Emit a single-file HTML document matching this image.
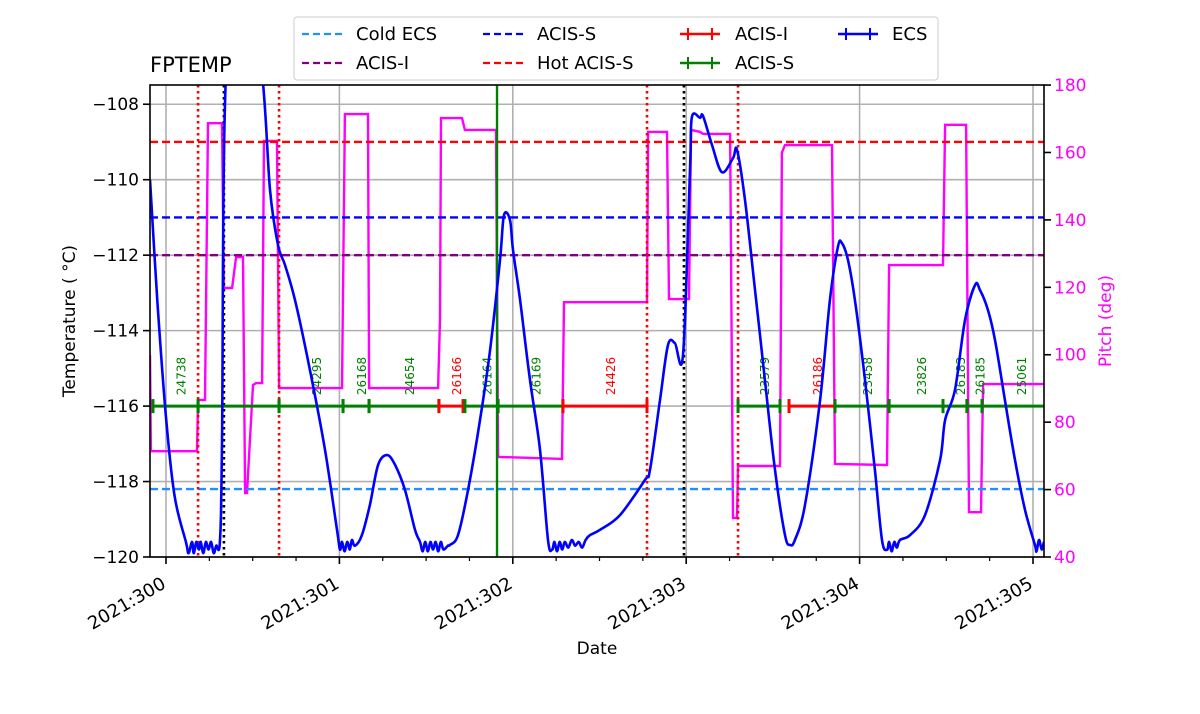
<!DOCTYPE html>
<html><head><meta charset="utf-8"><style>
html,body{margin:0;padding:0;background:#fff;}
svg{display:block;font-family:"DejaVu Sans","Liberation Sans",sans-serif;}
</style></head><body>
<svg id="chart" width="1200" height="714" viewBox="0 0 1200 714" xmlns="http://www.w3.org/2000/svg">
<defs><clipPath id="clip"><rect x="150" y="85" width="894" height="472"/></clipPath></defs>
<rect x="0" y="0" width="1200" height="714" fill="#fff"/>
<g id="grid"></g>
<g id="plot" clip-path="url(#clip)"></g>
<rect x="150" y="85" width="894" height="472" fill="none" stroke="#000" stroke-width="1.6"/>
<g id="axes"></g>
<text x="150" y="72" font-size="21">FPTEMP</text>
<text x="597" y="654" font-size="17" text-anchor="middle">Date</text>
<text transform="translate(75,321) rotate(-90)" font-size="17" text-anchor="middle">Temperature ( °C)</text>
<text transform="translate(1111,321) rotate(-90)" font-size="17" fill="#ff00ff" text-anchor="middle">Pitch (deg)</text>
<g>
<rect x="294" y="17" width="644" height="63" rx="3" fill="#fff" stroke="#ccc" stroke-width="1"/>
<g><line x1="302" y1="34" x2="342" y2="34" stroke="#1e90ff" stroke-width="2.2" stroke-dasharray="7,4"/><text x="356" y="40" font-size="18">Cold ECS</text></g>
<g><line x1="302" y1="63" x2="342" y2="63" stroke="#800080" stroke-width="2.2" stroke-dasharray="7,4"/><text x="356" y="69" font-size="18">ACIS-I</text></g>
<g><line x1="483" y1="34" x2="523" y2="34" stroke="#0000ff" stroke-width="2.2" stroke-dasharray="7,4"/><text x="537" y="40" font-size="18">ACIS-S</text></g>
<g><line x1="483" y1="63" x2="523" y2="63" stroke="#ff0000" stroke-width="2.2" stroke-dasharray="7,4"/><text x="537" y="69" font-size="18">Hot ACIS-S</text></g>
<g><line x1="680" y1="34" x2="720" y2="34" stroke="#ff0000" stroke-width="2.5"/><line x1="688" y1="28" x2="688" y2="40" stroke="#ff0000" stroke-width="2"/><line x1="712" y1="28" x2="712" y2="40" stroke="#ff0000" stroke-width="2"/><text x="735" y="40" font-size="18">ACIS-I</text></g>
<g><line x1="680" y1="63" x2="720" y2="63" stroke="#008000" stroke-width="2.5"/><line x1="688" y1="57" x2="688" y2="69" stroke="#008000" stroke-width="2"/><line x1="712" y1="57" x2="712" y2="69" stroke="#008000" stroke-width="2"/><text x="735" y="69" font-size="18">ACIS-S</text></g>
<g><line x1="838" y1="34" x2="878" y2="34" stroke="#0000ff" stroke-width="2.5"/><line x1="846" y1="28" x2="846" y2="40" stroke="#0000ff" stroke-width="2"/><line x1="870" y1="28" x2="870" y2="40" stroke="#0000ff" stroke-width="2"/><text x="865" y="40" font-size="18" dx="27">ECS</text></g>
</g>
</svg>
<script>
// ---- data ----
const xTickDays = [300, 301, 302, 303, 304, 305];
const xTickLabels = ["2021:300","2021:301","2021:302","2021:303","2021:304","2021:305"];
const yTicks = [-120,-118,-116,-114,-112,-110,-108];
const y2Ticks = [40,60,80,100,120,140,160,180];
const limitNames = ["cold-ecs","acis-s-limit","acis-i-limit","hot-acis-s"];
const limitValues = [-118.2,-111.0,-112.0,-109.0];
const limitColors = ["#1e90ff","#0000ff","#800080","#ff0000"];
const redDotDays = [300.185, 300.652, 302.774, 303.299];
const blackDotDays = [300.334, 302.987];
const greenLineDays = [301.909];
const tempDays = [299.908,299.95,300.0,300.05,300.115,300.13,300.15,300.16,300.175,300.19,300.2,300.215,300.23,300.245,300.26,300.275,300.29,300.311,300.323,300.346,300.45,300.554,300.600,300.646,300.686,300.744,300.830,300.917,300.986,301.003,301.015,301.03,301.045,301.06,301.072,301.090,301.130,301.176,301.223,301.275,301.321,301.378,301.436,301.465,301.48,301.495,301.51,301.525,301.54,301.555,301.57,301.585,301.6,301.626,301.638,301.684,301.742,301.811,301.869,301.926,301.949,301.984,302.001,302.042,302.099,302.157,302.203,302.226,302.24,302.255,302.27,302.285,302.3,302.32,302.34,302.36,302.38,302.4,302.42,302.445,302.503,302.618,302.762,302.791,302.849,302.895,302.935,302.982,303.022,303.033,303.080,303.097,303.149,303.206,303.270,303.293,303.339,303.397,303.454,303.512,303.570,303.599,303.627,303.685,303.772,303.829,303.875,303.898,303.933,303.973,304.031,304.088,304.129,304.158,304.17,304.185,304.2,304.215,304.233,304.291,304.377,304.464,304.493,304.550,304.608,304.666,304.694,304.740,304.781,304.838,304.896,304.954,305.011,305.02,305.035,305.05,305.063];
const tempValues = [-110.0,-113.2,-116.3,-118.4,-119.6,-119.9,-119.6,-119.9,-119.6,-119.8,-119.6,-119.9,-119.6,-119.8,-119.6,-119.9,-119.7,-119.6,-117.0,-107.2,-104.0,-107.2,-110.27,-111.73,-112.26,-113.19,-115.04,-117.16,-119.28,-119.8,-119.6,-119.85,-119.6,-119.8,-119.55,-119.7,-119.42,-118.62,-117.56,-117.30,-117.56,-118.22,-119.28,-119.6,-119.85,-119.6,-119.85,-119.6,-119.8,-119.6,-119.85,-119.6,-119.8,-119.7,-119.68,-119.42,-118.22,-116.37,-114.51,-112.13,-110.94,-111.07,-111.86,-113.19,-115.31,-117.16,-119.55,-119.81,-119.6,-119.85,-119.6,-119.8,-119.6,-119.75,-119.55,-119.7,-119.6,-119.75,-119.55,-119.42,-119.28,-118.89,-117.96,-117.69,-115.84,-114.38,-114.33,-114.62,-109.74,-108.34,-108.36,-108.31,-109.08,-109.80,-109.43,-109.21,-110.54,-112.92,-115.31,-117.69,-119.42,-119.68,-119.55,-118.62,-115.84,-113.19,-111.78,-111.68,-112.13,-113.19,-115.31,-117.69,-119.55,-119.81,-119.6,-119.85,-119.6,-119.75,-119.55,-119.42,-118.89,-117.43,-116.37,-115.57,-113.72,-112.79,-112.92,-113.45,-114.25,-115.84,-117.43,-118.75,-119.68,-119.85,-119.55,-119.8,-119.6];
const pitchDays = [299.908,299.913,300.179,300.185,300.225,300.242,300.323,300.334,300.381,300.404,300.444,300.456,300.467,300.502,300.519,300.554,300.565,300.640,300.652,301.015,301.032,301.165,301.171,301.569,301.580,301.586,301.707,301.724,301.903,301.915,302.284,302.295,302.774,302.780,302.889,302.901,303.016,303.028,303.080,303.097,303.253,303.270,303.293,303.299,303.541,303.552,303.570,303.841,303.858,304.158,304.170,304.481,304.493,304.614,304.631,304.700,304.712,305.063];
const pitchValues = [99.9,71.4,71.4,86.6,86.6,168.7,168.7,119.8,119.8,129.0,129.0,59.0,59.0,91.0,91.6,91.6,163.4,163.4,90.1,90.1,171.4,171.4,90.1,90.1,110.3,170.2,170.2,166.7,166.7,69.7,69.1,115.6,115.6,166.1,166.1,116.5,116.5,166.7,166.1,165.5,165.5,51.6,51.6,67.0,67.0,160.0,162.2,162.2,67.6,67.3,126.6,126.6,168.2,168.2,53.3,53.3,91.3,91.3];
const obsIds = ["24738","","24295","26168","24654","26166","26164","26169","24426","23579","26186","23458","23826","26183","26185","25061"];
const obsStart = [299.925,300.185,300.652,301.021,301.171,301.574,301.724,301.915,302.289,303.299,303.593,303.858,304.170,304.481,304.619,304.706];
const obsEnd = [300.185,300.652,301.021,301.171,301.574,301.713,301.915,302.289,302.774,303.541,303.858,304.170,304.481,304.619,304.706,305.100];
const obsInst = ["S","S","S","S","S","I","S","S","I","S","I","S","S","S","S","S"];
const obsBarTemp = -116;

// ---- scales ----
const X0=150, X1=1044, YT=85, YB=557;
const xS = d => 166 + (d-300)*173.4;
const yT = t => 557 - (t+120)*37.73;
const yP = p => 557 - (p-40)*3.371;
const NS="http://www.w3.org/2000/svg";
function mk(tag, parent){const e=document.createElementNS(NS,tag);parent.appendChild(e);return e;}
const grid=document.getElementById('grid'), plot=document.getElementById('plot'), axes=document.getElementById('axes');

xTickDays.forEach((d,i)=>{
  const x=xS(d);
  const g=mk('line',grid);
  
  
  g.setAttribute('x1',x);g.setAttribute('x2',x);g.setAttribute('y1',YT);g.setAttribute('y2',YB);g.setAttribute('stroke','#b0b0b0');g.setAttribute('stroke-width','1.6');
  const t=mk('line',axes);
  
  
  t.setAttribute('x1',x);t.setAttribute('x2',x);t.setAttribute('y1',YB);t.setAttribute('y2',YB+7);t.setAttribute('stroke','#000');t.setAttribute('stroke-width','1.6');
  const l=mk('text',axes);
  
  
  l.setAttribute('transform','translate('+(x+1)+','+(YB+30)+') rotate(-30)');
  l.setAttribute('text-anchor','end');l.setAttribute('font-size','18');
  l.textContent=xTickLabels[i];
  for(let q=1;q<4;q++){const mx=x+q*173.4/4; if(mx<X1){const m=mk('line',axes);
    
    
    m.setAttribute('x1',mx);m.setAttribute('x2',mx);m.setAttribute('y1',YB);m.setAttribute('y2',YB+4);m.setAttribute('stroke','#000');m.setAttribute('stroke-width','1.2');}}
});
yTicks.forEach(v=>{
  const y=yT(v);
  const g=mk('line',grid);
  
  
  g.setAttribute('x1',X0);g.setAttribute('x2',X1);g.setAttribute('y1',y);g.setAttribute('y2',y);g.setAttribute('stroke','#b0b0b0');g.setAttribute('stroke-width','1.6');
  const t=mk('line',axes);
  
  
  t.setAttribute('x1',X0-7);t.setAttribute('x2',X0);t.setAttribute('y1',y);t.setAttribute('y2',y);t.setAttribute('stroke','#000');t.setAttribute('stroke-width','1.6');
  const l=mk('text',axes);
  
  
  l.setAttribute('x',X0-11);l.setAttribute('y',y+6);l.setAttribute('text-anchor','end');l.setAttribute('font-size','17');
  l.textContent=(v<0?'\u2212':'')+Math.abs(v);
});
y2Ticks.forEach(v=>{
  const y=yP(v);
  const t=mk('line',axes);
  
  
  t.setAttribute('x1',X1);t.setAttribute('x2',X1+7);t.setAttribute('y1',y);t.setAttribute('y2',y);t.setAttribute('stroke','#000');t.setAttribute('stroke-width','1.6');
  const l=mk('text',axes);
  
  
  l.setAttribute('x',X1+10);l.setAttribute('y',y+6);l.setAttribute('fill','#ff00ff');l.setAttribute('font-size','17');
  l.textContent=v;
});

// pitch
const pp=mk('path',plot);


pp.setAttribute('d',pitchDays.map((d,i)=>(i?'L':'M')+xS(d).toFixed(1)+' '+yP(pitchValues[i]).toFixed(1)).join(''));
pp.setAttribute('fill','none');pp.setAttribute('stroke','#ff00ff');pp.setAttribute('stroke-width','2.4');

// limit lines
limitValues.forEach((v,i)=>{
  const l=mk('line',plot);
  
  
  l.setAttribute('x1',X0);l.setAttribute('x2',X1);l.setAttribute('y1',yT(v));l.setAttribute('y2',yT(v));
  l.setAttribute('stroke',limitColors[i]);l.setAttribute('stroke-width','2.4');l.setAttribute('stroke-dasharray','8,4');
});
function vline(d,color,dash,name,w){
  const l=mk('line',plot);
  
  
  l.setAttribute('x1',xS(d));l.setAttribute('x2',xS(d));l.setAttribute('y1',YT);l.setAttribute('y2',YB);
  l.setAttribute('stroke',color);l.setAttribute('stroke-width',w);if(dash)l.setAttribute('stroke-dasharray',dash);
}
redDotDays.forEach(d=>vline(d,'#ff0000','2.5,3.5','red-dotted-marker','2.6'));
blackDotDays.forEach(d=>vline(d,'#000','2.5,3.5','black-dotted-marker','2.6'));
greenLineDays.forEach(d=>vline(d,'#008000',null,'green-marker','2.4'));

// obsid bars
const yb=yT(obsBarTemp);
obsIds.forEach((id,i)=>{
  const c=obsInst[i]==='I'?'#ff0000':'#008000';
  const x1=xS(obsStart[i]), x2=xS(obsEnd[i]);
  const s=mk('line',plot);
  
  
  s.setAttribute('x1',x1);s.setAttribute('x2',x2);s.setAttribute('y1',yb);s.setAttribute('y2',yb);s.setAttribute('stroke',c);s.setAttribute('stroke-width','3');
  [x1,x2].forEach(xx=>{const t=mk('line',plot);
    
    
    t.setAttribute('x1',xx);t.setAttribute('x2',xx);t.setAttribute('y1',yb-7);t.setAttribute('y2',yb+7);t.setAttribute('stroke',c);t.setAttribute('stroke-width','3');});
  if(id){const t=mk('text',plot);
    
    
    t.setAttribute('transform','translate('+((x1+x2)/2+10)+','+(yb-11)+') rotate(-90)');
    t.setAttribute('font-size','12');t.setAttribute('fill',c);t.textContent=id;}
});

// temperature (Catmull-Rom smoothed)
const pts=tempDays.map((d,i)=>[xS(d),yT(tempValues[i])]);
let dstr='M'+pts[0][0].toFixed(1)+' '+pts[0][1].toFixed(1);
for(let i=0;i<pts.length-1;i++){
  const p0=pts[Math.max(0,i-1)],p1=pts[i],p2=pts[i+1],p3=pts[Math.min(pts.length-1,i+2)];
  const c1=[p1[0]+(p2[0]-p0[0])/6,p1[1]+(p2[1]-p0[1])/6];
  const c2=[p2[0]-(p3[0]-p1[0])/6,p2[1]-(p3[1]-p1[1])/6];
  dstr+='C'+c1[0].toFixed(1)+' '+c1[1].toFixed(1)+' '+c2[0].toFixed(1)+' '+c2[1].toFixed(1)+' '+p2[0].toFixed(1)+' '+p2[1].toFixed(1);
}
const tp=mk('path',plot);


tp.setAttribute('d',dstr);
tp.setAttribute('fill','none');tp.setAttribute('stroke','#0000ff');tp.setAttribute('stroke-width','2.6');tp.setAttribute('stroke-linejoin','round');
</script>
</body></html>
